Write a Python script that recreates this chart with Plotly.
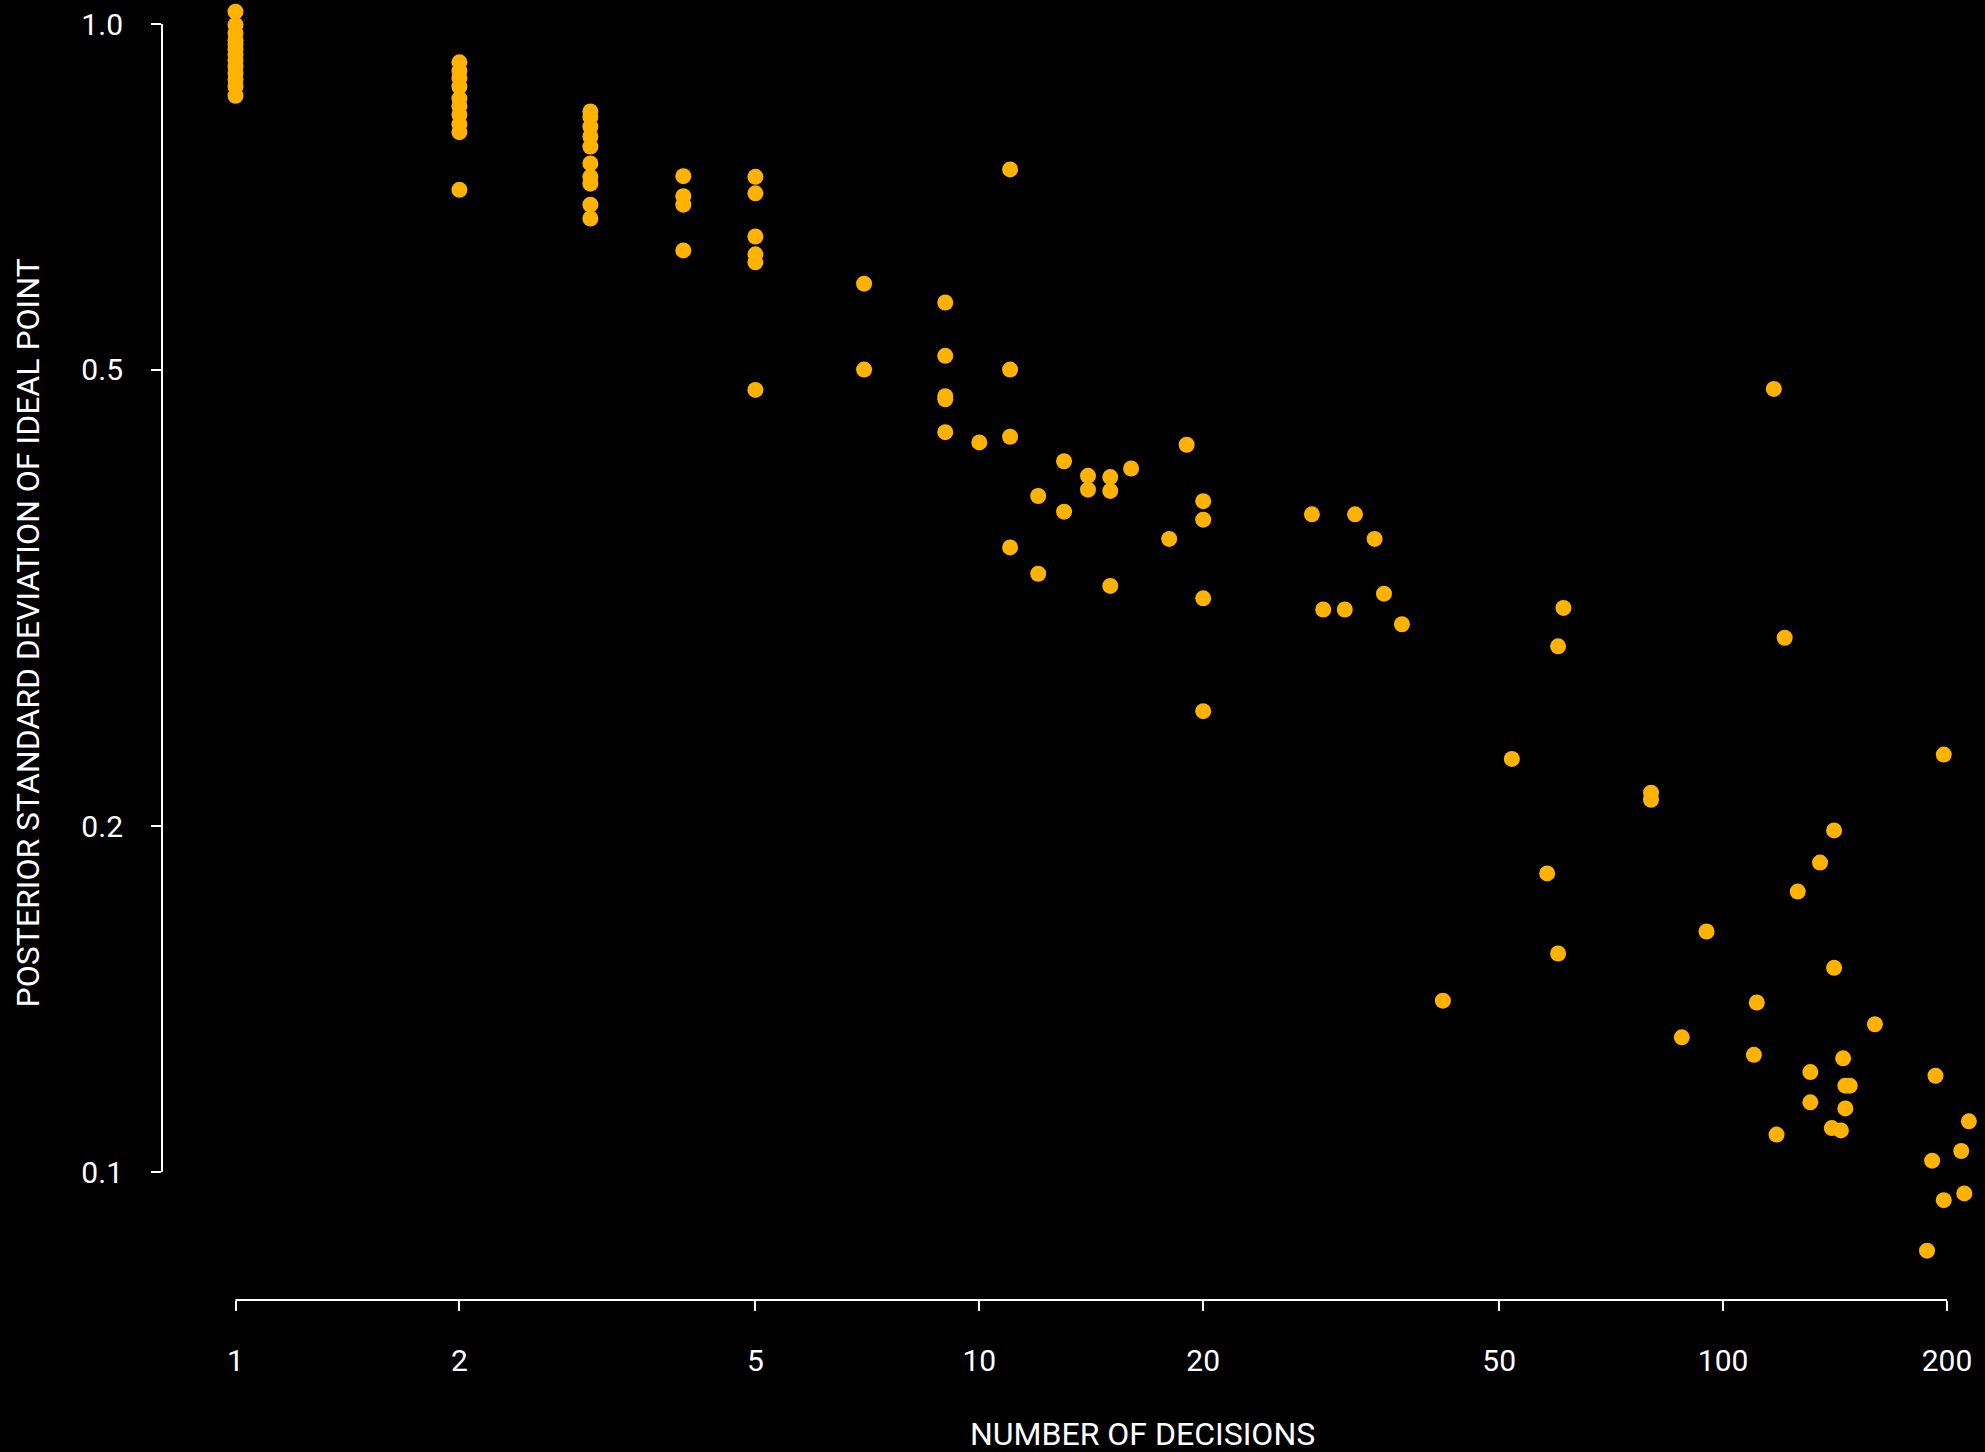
import plotly.graph_objects as go

# ---- data ----
decisions = (
    [1] * 13 + [2] * 10 + [3] * 10 + [4] * 4 + [5] * 6 + [7] * 2 + [9] * 5 + [10]
    + [11] * 4 + [12] * 2 + [13] * 2 + [14] * 2 + [15] * 3 + [16, 18, 19] + [20] * 4
    + [28, 29, 31, 32, 34, 35, 37, 42, 52, 58, 60, 60, 61, 80, 80, 88, 95, 110, 111,
       117, 118, 121, 126, 131, 131, 135, 140, 141, 141, 144, 145, 146, 146, 148, 160,
       188, 191, 193, 198, 198, 209, 211, 214]
)
posterior_sd = (
    [1.025, 0.998, 0.982, 0.968, 0.960, 0.950, 0.940, 0.930, 0.918, 0.906, 0.894, 0.882, 0.866]
    + [0.926, 0.910, 0.897, 0.882, 0.861, 0.848, 0.834, 0.818, 0.805, 0.717]
    + [0.839, 0.830, 0.814, 0.798, 0.782, 0.756, 0.736, 0.726, 0.696, 0.677]
    + [0.737, 0.708, 0.696, 0.635]
    + [0.736, 0.712, 0.653, 0.630, 0.620, 0.480]
    + [0.594, 0.500]
    + [0.572, 0.514, 0.474, 0.471, 0.441]
    + [0.432]
    + [0.747, 0.500, 0.437, 0.350]
    + [0.388, 0.332]
    + [0.416, 0.376]
    + [0.404, 0.393]
    + [0.403, 0.392, 0.324]
    + [0.410, 0.356, 0.430]
    + [0.384, 0.370, 0.316, 0.252]
    + [0.374, 0.309, 0.309, 0.374, 0.356, 0.319, 0.300, 0.141, 0.229, 0.182, 0.287, 0.155,
       0.310, 0.214, 0.211, 0.131, 0.162, 0.1265, 0.1405, 0.481, 0.1078, 0.292, 0.1755,
       0.1222, 0.1150, 0.186, 0.1092, 0.1984, 0.1506, 0.1087, 0.1256, 0.1189, 0.1136,
       0.1189, 0.1345, 0.0854, 0.1023, 0.1213, 0.231, 0.0945, 0.1043, 0.0958, 0.1107]
)
x_tick_vals = [1, 2, 5, 10, 20, 50, 100, 200]
x_tick_text = ["1", "2", "5", "10", "20", "50", "100", "200"]
y_tick_vals = [0.1, 0.2, 0.5, 1.0]
y_tick_text = ["0.1", "0.2", "0.5", "1.0"]
x_title = "NUMBER OF DECISIONS"
y_title = "POSTERIOR STANDARD DEVIATION OF IDEAL POINT"

# ---- layout geometry (pixels) ----
W, H = 1985, 1452
L, R, T, B = 162, 10, 2, 152
PW, PH = W - L - R, H - T - B
FONT = "Roboto"
WHITE = "#ffffff"
DOT = "#FFB300"

def px_to_paper_x(px):
    return (px - L) / PW

def px_to_paper_y(py):
    return (H - B - py) / PH

fig = go.Figure()
fig.add_trace(go.Scatter(
    x=decisions, y=posterior_sd, mode="markers",
    marker=dict(color=DOT, size=16, line=dict(width=0)),
    cliponaxis=False, showlegend=False, hoverinfo="x+y",
))

axis_common = dict(
    type="log", showgrid=False, zeroline=False, showline=False,
    ticks="outside", ticklen=10, tickwidth=2, tickcolor=WHITE,
    tickfont=dict(family=FONT, size=30, color=WHITE),
)
fig.update_xaxes(
    **axis_common,
    range=[-0.09882, 2.33867],
    tickmode="array", tickvals=x_tick_vals, ticktext=x_tick_text,
    ticklabelstandoff=24,
)
fig.update_yaxes(
    **axis_common,
    range=[-1.11150, 0.019164],
    tickmode="array", tickvals=y_tick_vals, ticktext=y_tick_text,
    ticklabelstandoff=22,
)

# R-style axis lines spanning only first to last tick (data coordinates)
fig.add_shape(type="line", xref="x", yref="paper",
              x0=x_tick_vals[0], x1=x_tick_vals[-1], y0=0, y1=0,
              line=dict(color=WHITE, width=2))
fig.add_shape(type="line", xref="paper", yref="y",
              x0=0, x1=0, y0=y_tick_vals[0], y1=y_tick_vals[-1],
              line=dict(color=WHITE, width=2))

fig.add_annotation(text=x_title, xref="paper", yref="paper",
                   x=px_to_paper_x(1142.6), y=px_to_paper_y(1434),
                   xanchor="center", yanchor="middle", showarrow=False,
                   font=dict(family=FONT, size=32, color=WHITE))
fig.add_annotation(text=y_title, xref="paper", yref="paper",
                   x=px_to_paper_x(27), y=px_to_paper_y(633.5),
                   xanchor="center", yanchor="middle", showarrow=False, textangle=-90,
                   font=dict(family=FONT, size=32, color=WHITE))

fig.update_layout(
    width=W, height=H,
    margin=dict(l=L, r=R, t=T, b=B, autoexpand=False),
    paper_bgcolor="#000000", plot_bgcolor="#000000",
    font=dict(family=FONT, color=WHITE),
)
fig.write_html(
    "out.html",
    config={"displayModeBar": False},
    post_script="document.body.style.margin='0';document.body.style.background='#000';"
                "document.body.style.overflow='hidden';",
)
